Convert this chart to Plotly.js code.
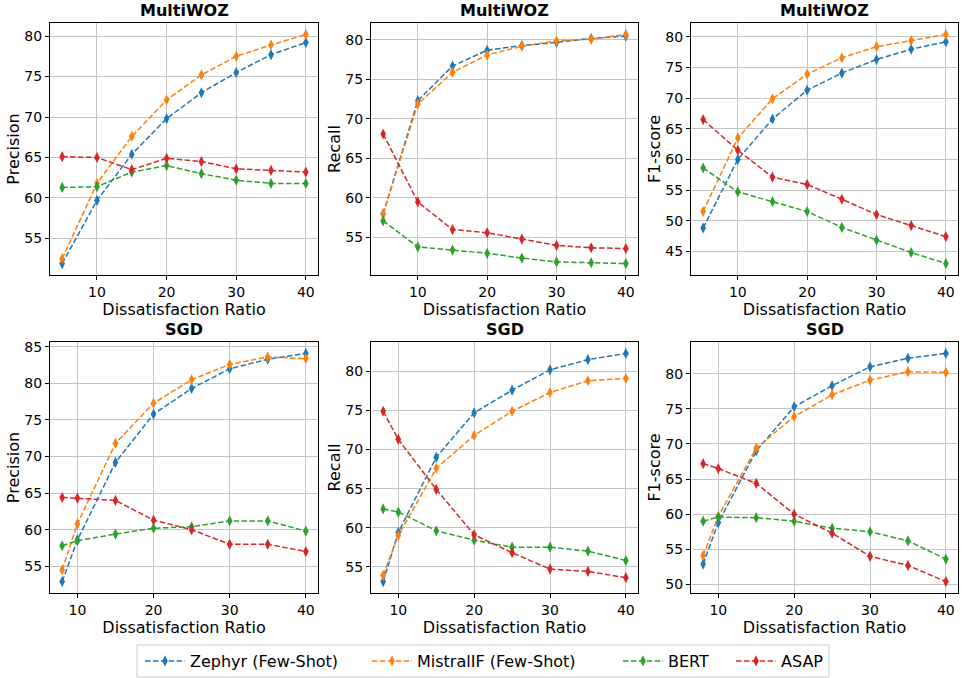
<!DOCTYPE html>
<html>
<head>
<meta charset="utf-8">
<script src="https://cdn.plot.ly/plotly-3.0.1.min.js"></script>
<style>
html,body{margin:0;padding:0;background:#fff;}
#chart{width:962px;height:678px;}
</style>
</head>
<body>
<div id="chart"></div>
<script>
// ---------- DATA ----------
const ratiosMultiWOZ = [5, 10, 15, 20, 25, 30, 35, 40];
const ratiosSGD = [8, 10, 15, 20, 25, 30, 35, 40];
const modelNames = ['Zephyr (Few-Shot)', 'MistralIF (Few-Shot)', 'BERT', 'ASAP'];
const datasetNames = ['MultiWOZ', 'SGD'];
const metricNames = ['Precision', 'Recall', 'F1-score'];
const xTickVals = [10, 20, 30, 40];

// MultiWOZ
const mwozPrecisionZephyr  = [51.9, 59.7, 65.4, 69.8, 73.0, 75.5, 77.7, 79.2];
const mwozPrecisionMistral = [52.5, 61.8, 67.6, 72.1, 75.2, 77.5, 78.9, 80.2];
const mwozPrecisionBERT    = [61.3, 61.4, 63.2, 64.0, 63.0, 62.2, 61.8, 61.8];
const mwozPrecisionASAP    = [65.1, 65.0, 63.5, 64.9, 64.5, 63.6, 63.4, 63.2];

const mwozRecallZephyr  = [58.0, 72.3, 76.7, 78.7, 79.3, 79.7, 80.2, 80.5];
const mwozRecallMistral = [58.0, 71.9, 75.9, 78.1, 79.2, 79.9, 80.1, 80.7];
const mwozRecallBERT    = [57.1, 53.8, 53.4, 53.0, 52.4, 51.9, 51.8, 51.7];
const mwozRecallASAP    = [68.1, 59.5, 56.0, 55.6, 54.8, 54.0, 53.7, 53.6];

const mwozF1Zephyr  = [48.8, 60.0, 66.6, 71.3, 74.1, 76.3, 78.0, 79.2];
const mwozF1Mistral = [51.5, 63.5, 69.9, 73.9, 76.6, 78.4, 79.4, 80.4];
const mwozF1BERT    = [58.6, 54.7, 53.1, 51.5, 48.9, 46.8, 44.8, 43.0];
const mwozF1ASAP    = [66.5, 61.5, 57.1, 55.9, 53.5, 51.0, 49.2, 47.4];

// SGD
const sgdPrecisionZephyr  = [52.9, 58.6, 69.2, 75.8, 79.3, 82.0, 83.3, 84.1];
const sgdPrecisionMistral = [54.5, 60.8, 71.8, 77.3, 80.5, 82.6, 83.6, 83.4];
const sgdPrecisionBERT    = [57.8, 58.5, 59.4, 60.2, 60.4, 61.2, 61.2, 59.8];
const sgdPrecisionASAP    = [64.4, 64.3, 64.0, 61.3, 60.0, 58.0, 58.0, 57.0];

const sgdRecallZephyr  = [53.1, 59.4, 69.0, 74.7, 77.6, 80.2, 81.5, 82.3];
const sgdRecallMistral = [53.9, 59.0, 67.6, 71.8, 74.9, 77.3, 78.8, 79.1];
const sgdRecallBERT    = [62.4, 62.0, 59.6, 58.4, 57.5, 57.5, 57.0, 55.8];
const sgdRecallASAP    = [74.9, 71.3, 64.9, 59.1, 56.8, 54.7, 54.4, 53.6];

const sgdF1Zephyr  = [52.9, 58.8, 69.0, 75.3, 78.3, 81.0, 82.2, 82.9];
const sgdF1Mistral = [54.1, 59.7, 69.4, 73.9, 77.0, 79.1, 80.3, 80.2];
const sgdF1BERT    = [59.0, 59.6, 59.5, 59.0, 58.0, 57.5, 56.2, 53.6];
const sgdF1ASAP    = [67.2, 66.5, 64.4, 60.0, 57.3, 54.0, 52.7, 50.4];

// ---------- BUILD ----------
const colors = ['#1f77b4', '#ff7f0e', '#2ca02c', '#d62728'];
const panels = [
  {x: ratiosMultiWOZ, series: [mwozPrecisionZephyr, mwozPrecisionMistral, mwozPrecisionBERT, mwozPrecisionASAP], title: datasetNames[0], ylab: metricNames[0]},
  {x: ratiosMultiWOZ, series: [mwozRecallZephyr, mwozRecallMistral, mwozRecallBERT, mwozRecallASAP], title: datasetNames[0], ylab: metricNames[1]},
  {x: ratiosMultiWOZ, series: [mwozF1Zephyr, mwozF1Mistral, mwozF1BERT, mwozF1ASAP], title: datasetNames[0], ylab: metricNames[2]},
  {x: ratiosSGD, series: [sgdPrecisionZephyr, sgdPrecisionMistral, sgdPrecisionBERT, sgdPrecisionASAP], title: datasetNames[1], ylab: metricNames[0]},
  {x: ratiosSGD, series: [sgdRecallZephyr, sgdRecallMistral, sgdRecallBERT, sgdRecallASAP], title: datasetNames[1], ylab: metricNames[1]},
  {x: ratiosSGD, series: [sgdF1Zephyr, sgdF1Mistral, sgdF1BERT, sgdF1ASAP], title: datasetNames[1], ylab: metricNames[2]}
];

const W = 962, H = 678;
const colPx = [[50, 318], [371, 638], [691, 958]];
const rowPx = [[23, 275], [342, 593]];
const legendStartPx = [140, 367, 618, 731];
const legendBoxPx = {x0: 137, x1: 829, y0: 645, y1: 677};
const FONT = 'DejaVu Sans, sans-serif';

const traces = [];
const layout = {
  width: W, height: H,
  margin: {l: 0, r: 0, t: 0, b: 0},
  paper_bgcolor: '#ffffff',
  plot_bgcolor: '#ffffff',
  font: {family: FONT, color: '#000000', size: 14},
  showlegend: true,
  annotations: [],
  shapes: [{
    type: 'rect', xref: 'paper', yref: 'paper', layer: 'below',
    x0: legendBoxPx.x0 / W, x1: legendBoxPx.x1 / W,
    y0: 1 - legendBoxPx.y1 / H, y1: 1 - legendBoxPx.y0 / H,
    line: {color: '#cccccc', width: 1}, fillcolor: 'rgba(255,255,255,0)'
  }]
};

legendStartPx.forEach((px, k) => {
  const key = k === 0 ? 'legend' : 'legend' + (k + 1);
  layout[key] = {
    orientation: 'h', x: px / W, xanchor: 'left',
    y: 1 - ((legendBoxPx.y0 + legendBoxPx.y1) / 2) / H, yanchor: 'middle',
    borderwidth: 0, bgcolor: 'rgba(255,255,255,0)',
    font: {family: FONT, size: 16, color: '#000000'},
    itemwidth: 40
  };
});

function pad(arrs) {
  let mn = Infinity, mx = -Infinity;
  arrs.forEach(a => a.forEach(v => { mn = Math.min(mn, v); mx = Math.max(mx, v); }));
  const m = (mx - mn) * 0.05;
  return [mn - m, mx + m];
}

panels.forEach((p, i) => {
  const row = Math.floor(i / 3), col = i % 3;
  const ax = i === 0 ? '' : String(i + 1);
  const xd = [colPx[col][0] / W, colPx[col][1] / W];
  const yd = [1 - rowPx[row][1] / H, 1 - rowPx[row][0] / H];
  const xmin = Math.min(...p.x), xmax = Math.max(...p.x);
  const xm = (xmax - xmin) * 0.05;
  const common = {
    showline: true, mirror: true, linecolor: '#000000', linewidth: 1,
    ticks: 'outside', ticklen: 4, tickwidth: 1, tickcolor: '#000000',
    showgrid: true, gridcolor: '#c4c4c4', gridwidth: 1, zeroline: false,
    tickfont: {family: FONT, size: 14, color: '#000000'}
  };
  layout['xaxis' + ax] = Object.assign({}, common, {
    domain: xd, anchor: 'y' + ax, range: [xmin - xm, xmax + xm],
    tickmode: 'array', tickvals: xTickVals,
    title: {text: 'Dissatisfaction Ratio', font: {family: FONT, size: 16, color: '#000000'}, standoff: 0}
  });
  layout['yaxis' + ax] = Object.assign({}, common, {
    domain: yd, anchor: 'x' + ax, range: pad(p.series),
    tickmode: 'linear', dtick: 5, tick0: 0,
    title: {text: p.ylab, font: {family: FONT, size: 16, color: '#000000'}, standoff: 0}
  });
  layout.annotations.push({
    text: '<b>' + p.title + '</b>', xref: 'paper', yref: 'paper',
    x: (xd[0] + xd[1]) / 2, y: yd[1], xanchor: 'center', yanchor: 'bottom', yshift: 1,
    showarrow: false, font: {family: FONT, size: 16, color: '#000000'}
  });
  p.series.forEach((s, k) => {
    traces.push({
      type: 'scatter', mode: 'lines+markers',
      x: p.x, y: s, name: modelNames[k], legendgroup: modelNames[k],
      legend: k === 0 ? 'legend' : 'legend' + (k + 1),
      showlegend: i === 0,
      xaxis: 'x' + ax, yaxis: 'y' + ax,
      line: {color: colors[k], width: 1.5, dash: '5.5px,2.4px'},
      marker: {symbol: 'diamond-tall', size: 8, color: colors[k], line: {width: 0}}
    });
  });
});

Plotly.newPlot('chart', traces, layout, {displayModeBar: false, staticPlot: true});
</script>
</body>
</html>
